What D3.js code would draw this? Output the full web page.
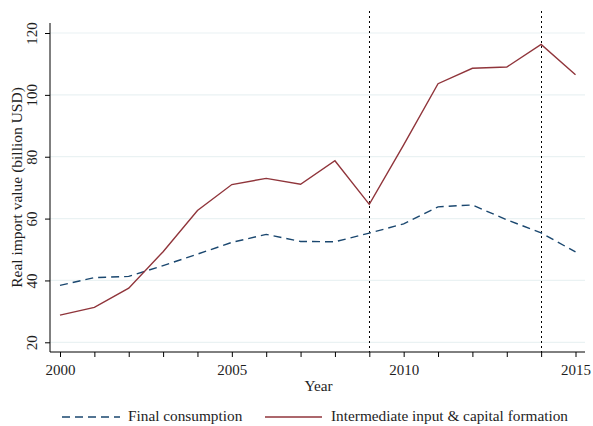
<!DOCTYPE html>
<html>
<head>
<meta charset="utf-8">
<script src="https://cdn.jsdelivr.net/npm/d3@7"></script>
<style>
  html, body { margin: 0; padding: 0; background: #fff; }
  svg { display: block; font-family: "Liberation Serif", "Times New Roman", serif; }
</style>
</head>
<body>
<svg id="chart" width="593" height="426"></svg>
<script>
// Real import value by year (billion USD)
const years = [2000, 2001, 2002, 2003, 2004, 2005, 2006, 2007, 2008, 2009, 2010, 2011, 2012, 2013, 2014, 2015];
const finalConsumption = [38.4, 40.9, 41.3, 44.8, 48.5, 52.3, 54.9, 52.6, 52.5, 55.3, 58.3, 63.8, 64.4, 59.6, 55.4, 49.2];
const intermediateCapital = [28.8, 31.3, 37.5, 49.3, 62.6, 71.0, 73.0, 71.1, 78.7, 64.6, 83.8, 103.6, 108.6, 109.0, 116.3, 106.5];
const yTicks = [20, 40, 60, 80, 100, 120];
const xTicks = [2000, 2005, 2010, 2015];
const markerYears = [2009, 2014];
const seriesNames = ["Final consumption", "Intermediate input & capital formation"];

const svg = d3.select("#chart");
const plotLeft = 50, plotRight = 585, plotTop = 10, plotBottom = 352;
const textColor = "#1e1e1e";

const x = d3.scaleLinear().domain([2000, 2015]).range([60, 575.5]);
const y = d3.scaleLinear().domain([20, 120]).range([342.3, 33]);

// horizontal grid lines
svg.append("g").selectAll("line").data(yTicks).join("line")
  .attr("x1", plotLeft).attr("x2", plotRight)
  .attr("y1", d => y(d)).attr("y2", d => y(d))
  .attr("stroke", "#eaf2f3").attr("stroke-width", 1.2);

// y axis with rotated tick labels
const yAxis = svg.append("g").attr("transform", `translate(${plotLeft},0)`)
  .call(d3.axisLeft(y).tickValues(yTicks).tickSize(5).tickSizeOuter(0));
yAxis.select(".domain").attr("d", `M0,23V${plotBottom}`).attr("stroke", "#000");
yAxis.selectAll(".tick line").attr("stroke", "#000");
yAxis.selectAll(".tick text")
  .attr("font-size", 15).attr("font-family", "Liberation Serif, serif").attr("fill", textColor)
  .attr("text-anchor", "middle").attr("dy", null)
  .attr("transform", "rotate(-90)").attr("x", 0).attr("y", -13);

// x axis: ticks every year, labels every five years
const xAxis = svg.append("g").attr("transform", `translate(0,${plotBottom})`)
  .call(d3.axisBottom(x).tickValues(years).tickSize(5).tickSizeOuter(0)
    .tickFormat(d => xTicks.includes(d) ? d3.format("d")(d) : ""));
xAxis.select(".domain").attr("d", `M${plotLeft},0H${plotRight}`).attr("stroke", "#000");
xAxis.selectAll(".tick line").attr("stroke", "#000");
xAxis.selectAll(".tick text").attr("font-size", 15).attr("font-family", "Liberation Serif, serif")
  .attr("fill", textColor).attr("y", 12);

// axis titles
svg.append("text").attr("x", 318.5).attr("y", 391).attr("text-anchor", "middle")
  .attr("font-size", 15.3).attr("fill", textColor).text("Year");
svg.append("text").attr("transform", `translate(22,${(33 + 342) / 2}) rotate(-90)`)
  .attr("text-anchor", "middle").attr("font-size", 15.5).attr("fill", textColor)
  .text("Real import value (billion USD)");

// vertical reference lines
svg.append("g").selectAll("line").data(markerYears).join("line")
  .attr("x1", d => Math.round(x(d)) + 0.5).attr("x2", d => Math.round(x(d)) + 0.5)
  .attr("y1", plotTop + 1).attr("y2", plotBottom)
  .attr("stroke", "#000").attr("stroke-width", 1).attr("stroke-dasharray", "2,3");

const line = d3.line().x((d, i) => x(years[i])).y(d => y(d));

svg.append("path").datum(finalConsumption).attr("d", line)
  .attr("fill", "none").attr("stroke", "#1a476f").attr("stroke-width", 1.4)
  .attr("stroke-dasharray", "8,5");

svg.append("path").datum(intermediateCapital).attr("d", line)
  .attr("fill", "none").attr("stroke", "#90353b").attr("stroke-width", 1.4);

// legend
const legend = svg.append("g");
legend.append("line").attr("x1", 62).attr("x2", 120).attr("y1", 417).attr("y2", 417)
  .attr("stroke", "#1a476f").attr("stroke-width", 1.4).attr("stroke-dasharray", "8,5");
legend.append("text").attr("x", 128).attr("y", 421).attr("font-size", 15.3).attr("fill", textColor)
  .text(seriesNames[0]);
legend.append("line").attr("x1", 265).attr("x2", 322).attr("y1", 417).attr("y2", 417)
  .attr("stroke", "#90353b").attr("stroke-width", 1.4);
legend.append("text").attr("x", 331).attr("y", 421).attr("font-size", 15.3).attr("fill", textColor)
  .text(seriesNames[1]);
</script>
</body>
</html>
